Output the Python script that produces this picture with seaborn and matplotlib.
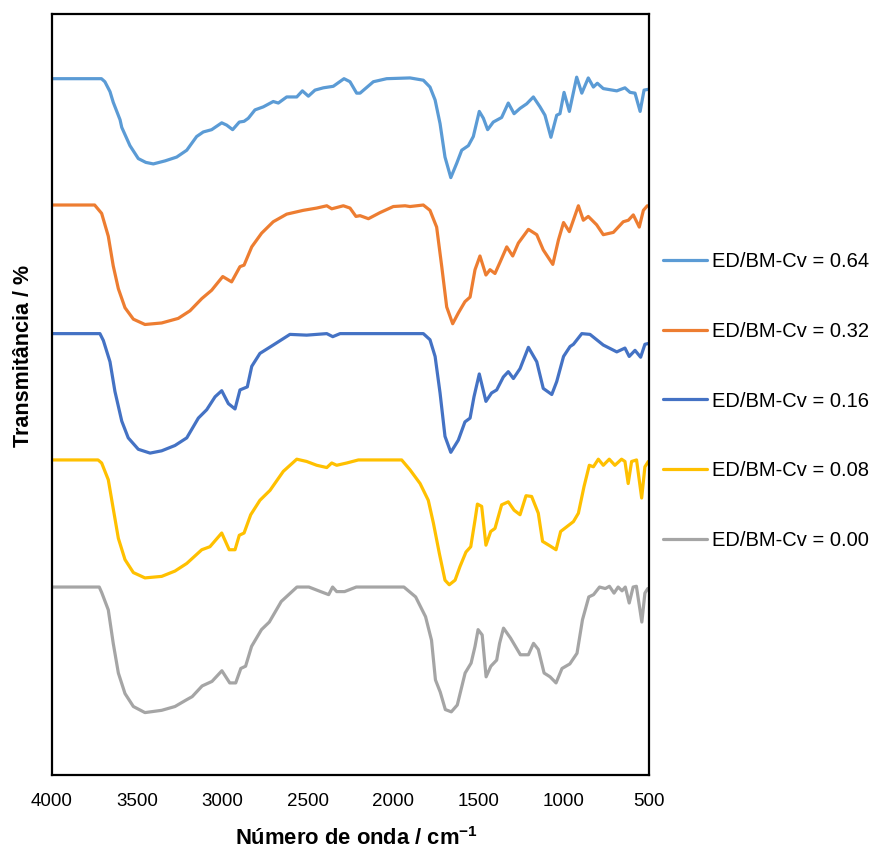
import matplotlib
matplotlib.use("Agg")
import matplotlib.pyplot as plt
import seaborn as sns
import pandas as pd

# FTIR spectra (wavenumber in cm-1, stacked transmittance in %)
series_labels = ["ED/BM-Cv = 0.64", "ED/BM-Cv = 0.32", "ED/BM-Cv = 0.16",
                 "ED/BM-Cv = 0.08", "ED/BM-Cv = 0.00"]
series_colors = ["#5B9BD5", "#ED7D31", "#4472C4", "#FFC000", "#A5A5A5"]

wn_064 = [4000, 3710, 3690, 3660, 3641, 3601, 3591, 3543, 3494, 3450, 3406, 3337,
          3269, 3210, 3152, 3113,
          3064, 3005, 2976, 2941, 2902, 2874, 2849, 2810, 2761, 2703, 2673, 2624,
          2565, 2532, 2497, 2458, 2409, 2351, 2288, 2253, 2214, 2194, 2116, 2038,
          1901, 1823, 1784, 1754, 1725, 1696, 1662, 1627, 1598, 1559, 1530, 1495,
          1471, 1446, 1413, 1364, 1325, 1291, 1256, 1217, 1178, 1139, 1110, 1075,
          1041, 1022, 998, 967, 924, 894, 856, 826, 803, 768, 689, 641, 611, 582,
          552, 529, 504]
t_064 = [91.5, 91.5, 91.1, 89.8, 88.4, 86.1, 85.1, 82.7, 81.0, 80.5, 80.3, 80.7,
         81.2, 82.1, 83.9, 84.5,
         84.8, 85.7, 85.4, 84.8, 85.8, 85.9, 86.3, 87.4, 87.8, 88.5, 88.3, 89.1,
         89.1, 89.9, 89.2, 90.0, 90.3, 90.5, 91.5, 91.1, 89.6, 89.6, 91.1, 91.5,
         91.6, 91.3, 90.4, 88.7, 85.6, 81.2, 78.5, 80.4, 82.1, 82.7, 83.9, 87.2,
         86.3, 84.8, 85.8, 86.4, 88.3, 86.9, 87.6, 88.2, 89.1, 87.8, 86.7, 83.8,
         86.7, 86.9, 89.7, 87.2, 91.7, 89.6, 91.6, 90.4, 90.9, 90.2, 89.9, 90.3,
         89.7, 89.6, 87.2, 90.0, 90.1]

wn_032 = [4000, 3750, 3709, 3670, 3641, 3611, 3572, 3523, 3455, 3357, 3260, 3191,
          3122, 3064, 2999, 2947, 2898, 2874, 2829, 2771, 2703, 2624, 2527, 2448,
          2389, 2360, 2292, 2253, 2218, 2194, 2145, 2077, 1999, 1930, 1901, 1823,
          1784, 1745, 1715, 1686, 1651, 1618, 1579, 1549, 1520, 1491, 1456, 1432,
          1403, 1373, 1334, 1299, 1266, 1207, 1158, 1120, 1064, 1031, 1001, 967,
          914, 885, 856, 807, 768, 709, 651, 621, 592, 557, 533, 510]
t_032 = [74.9, 74.9, 73.8, 70.8, 66.9, 63.9, 61.4, 59.9, 59.2, 59.4, 60.0, 61.0,
         62.6, 63.7, 65.5, 64.8, 66.8, 67.0, 69.4, 71.2, 72.7, 73.7, 74.2, 74.5,
         74.8, 74.4, 74.8, 74.5, 73.4, 73.5, 73.1, 73.9, 74.7, 74.8, 74.7, 74.9,
         74.2, 72.0, 66.8, 61.5, 59.3, 60.7, 62.2, 62.8, 66.4, 68.2, 65.7, 66.4,
         65.9, 67.4, 69.4, 68.2, 69.9, 71.7, 71.0, 69.0, 67.1, 70.3, 72.6, 71.4,
         74.8, 72.9, 73.4, 72.3, 71.0, 71.3, 72.7, 72.9, 73.6, 72.0, 74.2, 74.8]

wn_016 = [4000, 3719, 3699, 3660, 3631, 3591, 3553, 3494, 3425, 3357, 3279, 3210,
          3142, 3093, 3044, 3005, 2966, 2927, 2898, 2855, 2829, 2781, 2703, 2605,
          2507, 2448, 2389, 2354, 2311, 1823, 1784, 1754, 1725, 1696, 1662, 1618,
          1579, 1549, 1526, 1495, 1456, 1423, 1393, 1354, 1325, 1295, 1256, 1207,
          1158, 1120, 1070, 1041, 1001, 963, 943, 894, 846, 768, 689, 641, 616,
          582, 549, 524, 504]
t_016 = [58.0, 58.0, 57.1, 54.3, 50.4, 46.5, 44.3, 42.8, 42.3, 42.6, 43.3, 44.3,
         46.9, 48.0, 49.7, 50.5, 48.8, 48.1, 50.6, 51.0, 53.7, 55.4, 56.5, 57.9,
         57.8, 57.9, 58.0, 57.6, 58.0, 58.0, 57.2, 55.0, 50.2, 44.5, 42.4, 44.0,
         46.4, 46.9, 49.7, 52.7, 49.1, 50.2, 50.6, 52.3, 53.0, 52.1, 53.4, 56.2,
         54.3, 50.8, 50.0, 51.7, 55.0, 56.3, 56.6, 58.0, 57.9, 56.5, 55.6, 56.1,
         55.0, 55.8, 54.9, 56.6, 56.7]

wn_008 = [4000, 3730, 3709, 3670, 3641, 3611, 3572, 3523, 3455, 3357, 3279, 3210,
          3122, 3074, 3005, 2961, 2927, 2902, 2874, 2835, 2781, 2722, 2644, 2565,
          2507, 2448, 2389, 2360, 2331, 2272, 2204, 1950, 1901, 1842, 1794, 1764,
          1729, 1696, 1671, 1637, 1608, 1573, 1545, 1520, 1506, 1481, 1456, 1428,
          1403, 1364, 1325, 1291, 1256, 1221, 1188, 1149, 1124, 1080, 1045, 1018,
          943, 914, 881, 850, 826, 797, 768, 733, 700, 661, 641, 622, 602, 573,
          543, 524, 504]
t_008 = [41.4, 41.4, 41.0, 38.8, 35.0, 31.1, 28.3, 26.6, 25.9, 26.1, 26.8, 27.8,
         29.6, 30.0, 31.8, 29.6, 29.6, 31.5, 31.8, 34.2, 36.1, 37.4, 39.9, 41.5,
         41.2, 40.7, 40.4, 41.0, 40.7, 41.0, 41.4, 41.4, 40.1, 38.3, 36.1, 33.1,
         29.1, 25.6, 25.0, 25.6, 27.4, 29.3, 30.0, 33.5, 35.6, 35.3, 30.2, 32.0,
         32.4, 35.5, 35.9, 34.8, 34.2, 36.7, 36.6, 34.4, 30.7, 30.1, 29.6, 32.0,
         33.3, 34.4, 37.9, 40.7, 40.5, 41.5, 40.7, 41.5, 40.7, 41.5, 41.2, 38.3,
         41.2, 41.4, 36.4, 40.5, 41.2]

wn_000 = [4000, 3723, 3709, 3670, 3641, 3611, 3572, 3523, 3455, 3357, 3279, 3210,
          3178, 3120, 3062, 3004, 2958, 2923, 2893, 2865, 2830, 2772, 2726, 2656,
          2564, 2494, 2425, 2378, 2355, 2331, 2285, 2216, 1937, 1868, 1810, 1775,
          1752, 1724, 1694, 1659, 1624, 1578, 1543, 1520, 1502, 1478, 1455, 1427,
          1393, 1376, 1353, 1312, 1254, 1207, 1177, 1149, 1115, 1080, 1045, 1010,
          964, 922, 890, 853, 825, 790, 756, 732, 705, 681, 658, 639, 616, 593,
          574, 542, 524, 507]
t_000 = [24.7, 24.7, 24.0, 21.7, 17.3, 13.4, 10.7, 9.0, 8.2, 8.5, 9.0, 9.9,
         10.3, 11.7, 12.3, 13.7, 12.1, 12.1, 14.0, 14.3, 16.9, 19.1, 20.1, 22.8,
         24.7, 24.7, 24.1, 23.7, 24.7, 24.1, 24.1, 24.7, 24.7, 23.4, 20.8, 17.7,
         12.5, 10.9, 8.6, 8.3, 9.2, 13.4, 14.7, 16.9, 19.1, 18.4, 12.9, 14.3,
         15.1, 17.3, 19.3, 18.0, 15.8, 15.8, 17.3, 16.5, 13.4, 12.9, 12.1, 14.0,
         14.6, 16.0, 20.4, 23.4, 23.7, 24.7, 24.5, 24.8, 23.9, 24.7, 24.2, 24.7,
         22.6, 24.7, 24.8, 20.1, 23.9, 24.5]

x_ticks = [4000, 3500, 3000, 2500, 2000, 1500, 1000, 500]

sns.set_style("white")
plt.rcParams["font.family"] = ["Liberation Sans", "DejaVu Sans"]
plt.rcParams["mathtext.fontset"] = "custom"
plt.rcParams["mathtext.rm"] = "Liberation Sans"
plt.rcParams["mathtext.bf"] = "Liberation Sans:bold"
plt.rcParams["text.color"] = "black"
plt.rcParams["axes.labelcolor"] = "black"
plt.rcParams["xtick.color"] = "black"

frames = []
for lab, wn, t in zip(series_labels,
                      [wn_064, wn_032, wn_016, wn_008, wn_000],
                      [t_064, t_032, t_016, t_008, t_000]):
    frames.append(pd.DataFrame({"wavenumber": wn, "transmittance": t, "sample": lab}))
df = pd.concat(frames, ignore_index=True)

fig = plt.figure(figsize=(8.73, 8.52), dpi=100)
ax = fig.add_axes([52 / 873, 77 / 852, 597 / 873, 761 / 852])

sns.lineplot(data=df, x="wavenumber", y="transmittance", hue="sample",
             hue_order=series_labels, palette=series_colors, sort=False,
             estimator=None, linewidth=2.3, ax=ax)
for ln in ax.get_lines():
    ln.set_solid_joinstyle("round")
    ln.set_solid_capstyle("round")

ax.set_xlim(4000, 500)
ax.set_ylim(0, 100)
ax.set_xticks(x_ticks)
ax.set_xticklabels([str(v) for v in x_ticks], fontsize=13.5, color="black")
ax.set_yticks([])
ax.tick_params(axis="x", direction="in", length=4, width=1.3, color="black", pad=13)
for sp in ax.spines.values():
    sp.set_visible(True)
    sp.set_color("black")
    sp.set_linewidth(1.6)
ax.set_xlabel("")
ax.set_ylabel("")

fig.text(357 / 873, 2 / 852, "Número de onda / cm$^{\\mathbf{-1}}$", fontsize=15.8,
         fontweight="bold", ha="center", va="bottom")
fig.text(24 / 873, 1 - 356 / 852, "Transmitância / %", fontsize=15.5,
         fontweight="bold", rotation=90, ha="center", va="center")

handles, labels = ax.get_legend_handles_labels()
ax.get_legend().remove()
fig.legend(handles, labels, loc="center left", bbox_to_anchor=(662.7 / 873, 0.5293),
           frameon=False, fontsize=14.5, labelspacing=2.53, handlelength=2.22,
           handletextpad=0.22, borderpad=0, borderaxespad=0)

fig.savefig("out.png", dpi=100)
